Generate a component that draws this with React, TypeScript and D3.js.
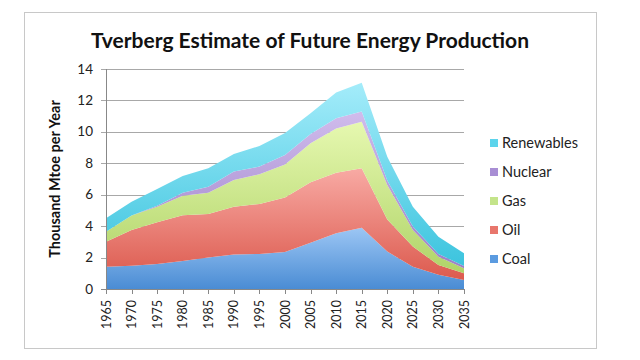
import React from "react";
import * as d3 from "d3";

const years = [1965, 1970, 1975, 1980, 1985, 1990, 1995, 2000, 2005, 2010, 2015, 2020, 2025, 2030, 2035];
const coal = [1.42, 1.48, 1.59, 1.78, 2.0, 2.2, 2.23, 2.35, 2.95, 3.54, 3.9, 2.38, 1.42, 0.9, 0.57];
const oil = [1.58, 2.27, 2.65, 2.92, 2.77, 3.04, 3.18, 3.48, 3.84, 3.86, 3.78, 2.05, 1.28, 0.63, 0.43];
const gas = [0.65, 0.92, 1.0, 1.24, 1.36, 1.7, 1.89, 2.1, 2.48, 2.82, 2.97, 2.19, 1.05, 0.53, 0.32];
const nuclear = [0.0, 0.0, 0.06, 0.19, 0.38, 0.53, 0.49, 0.6, 0.59, 0.64, 0.64, 0.28, 0.22, 0.17, 0.14];
const renewables = [0.85, 0.89, 1.06, 1.06, 1.17, 1.12, 1.31, 1.4, 1.32, 1.64, 1.84, 1.52, 1.27, 1.1, 0.81];
const seriesNames = ["Coal", "Oil", "Gas", "Nuclear", "Renewables"];
const yTicks = [0, 2, 4, 6, 8, 10, 12, 14];

const gradients: Record<string, [string, string]> = {
  Coal: ["#9cc6f4", "#4a8cd4"],
  Oil: ["#f8aaa4", "#dc5a4e"],
  Gas: ["#e6f8b0", "#b0d468"],
  Nuclear: ["#d0bcec", "#9c80c8"],
  Renewables: ["#a4ecfa", "#3cc4de"],
};
const legendColors: Record<string, string> = {
  Coal: "#5b9be0",
  Oil: "#e8766c",
  Gas: "#c4e48a",
  Nuclear: "#a88ed4",
  Renewables: "#5cd4ec",
};

export default function App() {
  const W = 640, H = 360;
  const left = 106, right = 464, top = 69, bottom = 289;
  const x = d3.scaleLinear().domain([1965, 2035]).range([left, right]);
  const y = d3.scaleLinear().domain([0, 14]).range([bottom, top]);
  const series = [coal, oil, gas, nuclear, renewables];
  const table = years.map((yr, i) => {
    const row: Record<string, number> = { year: yr };
    seriesNames.forEach((n, k) => (row[n] = series[k][i]));
    return row;
  });
  const stacked = d3.stack<Record<string, number>>().keys(seriesNames)(table);
  const area = d3
    .area<any>()
    .x((d) => x(d.data.year))
    .y0((d) => y(d[0]))
    .y1((d) => y(d[1]));
  const font = "Lato, 'Open Sans', sans-serif";
  const legendOrder = ["Renewables", "Nuclear", "Gas", "Oil", "Coal"];
  const legendY = [147, 176, 205, 234, 263];

  return (
    <svg width={W} height={H} style={{ position: "absolute", left: 0, top: 0 }} fontFamily={font}>
      <defs>
        {seriesNames.map((n) => (
          <linearGradient key={n} id={"g" + n} x1="0" y1="0" x2="0" y2="1">
            <stop offset="0" stopColor={gradients[n][0]} />
            <stop offset="1" stopColor={gradients[n][1]} />
          </linearGradient>
        ))}
      </defs>
      <rect x={0} y={0} width={W} height={H} fill="#fff" />
      <rect x={24.5} y={12.5} width={572} height={336} fill="#fff" stroke="#c8c8c8" strokeWidth={1} />
      <text x={310} y={48} textAnchor="middle" fontSize={21} fontWeight="bold" fill="#111">
        Tverberg Estimate of Future Energy Production
      </text>
      {yTicks.map((t) => (
        <g key={t}>
          <line x1={left - 5} x2={right} y1={Math.round(y(t)) + 0.5} y2={Math.round(y(t)) + 0.5} stroke={t === 0 ? "#888" : "#a8a8a8"} strokeWidth={1} />
          <text x={93} y={y(t) + 4.5} textAnchor="end" fontSize={13.5} fill="#222">
            {t}
          </text>
        </g>
      ))}
      {stacked.map((s) => (
        <path key={s.key} d={area(s as any) || ""} fill={`url(#g${s.key})`} />
      ))}
      <line x1={left + 0.5} x2={left + 0.5} y1={top} y2={bottom} stroke="#888" />
      <line x1={left} x2={right} y1={bottom + 0.5} y2={bottom + 0.5} stroke="#888" />
      {years.map((yr) => (
        <g key={yr}>
          <line x1={Math.round(x(yr)) + 0.5} x2={Math.round(x(yr)) + 0.5} y1={bottom} y2={bottom + 5} stroke="#888" />
          <text
            transform={`translate(${x(yr) + 4.5},${bottom + 11}) rotate(-90)`}
            textAnchor="end"
            fontSize={12.5}
            fill="#222"
          >
            {yr}
          </text>
        </g>
      ))}
      <text transform={`translate(${60},${(top + bottom) / 2}) rotate(-90)`} textAnchor="middle" fontSize={14.5} fontWeight="bold" fill="#111">
        Thousand Mtoe per Year
      </text>
      {legendOrder.map((n, i) => (
        <g key={n}>
          <rect x={490} y={legendY[i] - 8} width={8} height={8} fill={legendColors[n]} />
          <text x={502} y={legendY[i] + 0.5} fontSize={14.5} fill="#222">
            {n}
          </text>
        </g>
      ))}
    </svg>
  );
}
